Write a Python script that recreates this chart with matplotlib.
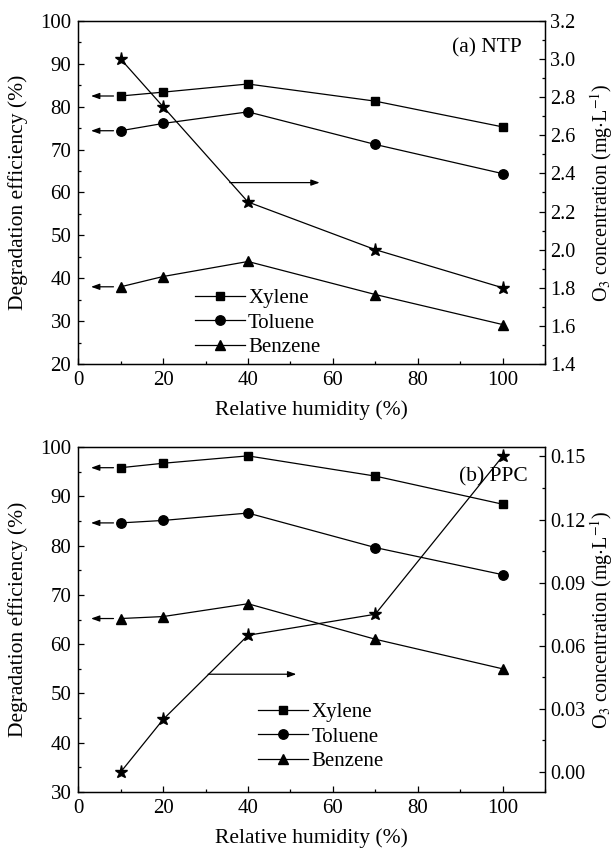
import matplotlib
matplotlib.use("Agg")
import matplotlib.pyplot as plt
from matplotlib.ticker import MultipleLocator

plt.rcParams['font.family'] = ['Liberation Serif', 'DejaVu Serif']
plt.rcParams['mathtext.fontset'] = 'stix'

# relative humidity (%)
rh = [10, 20, 40, 70, 100]

# (a) NTP
ntp_xylene = [82.5, 83.4, 85.3, 81.3, 75.3]
ntp_toluene = [74.4, 76.1, 78.8, 71.2, 64.4]
ntp_benzene = [38.0, 40.4, 43.9, 36.2, 29.2]
ntp_o3 = [3.0, 2.75, 2.25, 2.0, 1.8]

# (b) PPC
ppc_xylene = [95.8, 96.7, 98.2, 94.1, 88.4]
ppc_toluene = [84.6, 85.1, 86.6, 79.6, 74.1]
ppc_benzene = [65.2, 65.6, 68.2, 61.0, 55.0]
ppc_o3 = [0.0, 0.025, 0.065, 0.075, 0.15]

fig = plt.figure(figsize=(6.14, 8.49), dpi=100)
ax1 = fig.add_axes([0.1275, 0.5713, 0.760, 0.404])
ax2 = fig.add_axes([0.1275, 0.0671, 0.760, 0.4064])

FS_TICK = 15
FS_LAB = 15.5
lw = 0.9


def style(ax, minor_y):
    ax.set_xlim(0, 110)
    ax.xaxis.set_major_locator(MultipleLocator(20))
    ax.xaxis.set_minor_locator(MultipleLocator(10))
    ax.yaxis.set_minor_locator(MultipleLocator(minor_y))
    ax.tick_params(which='both', direction='in', labelsize=FS_TICK, width=0.9)
    ax.tick_params(which='major', length=4.5, pad=5)
    ax.tick_params(which='minor', length=2.5)
    ax.tick_params(axis='both', which='both', top=False, right=False)
    for s in ax.spines.values():
        s.set_linewidth(1.0)


def panel(ax, xyl, tol, ben, o3, ylim, rlim, rmajor, rminor, rfmt, tag, tagpos,
          legpos, rarrow):
    ax.plot(rh, xyl, '-s', color='k', lw=lw, ms=5.8, label='Xylene')
    ax.plot(rh, tol, '-o', color='k', lw=lw, ms=6.8, label='Toluene')
    ax.plot(rh, ben, '-^', color='k', lw=lw, ms=7.2, label='Benzene')
    ax.set_ylim(*ylim)
    ax.yaxis.set_major_locator(MultipleLocator(10))
    style(ax, 5)
    ax.set_xlabel('Relative humidity (%)', fontsize=FS_LAB)
    ax.set_ylabel('Degradation efficiency (%)', fontsize=FS_LAB)
    ax.xaxis.set_label_coords(0.5, -0.105)
    ax.yaxis.set_label_coords(-0.108, 0.5)

    # arrows pointing to the left axis
    for s in (xyl, tol, ben):
        ax.annotate('', xy=(3, s[0]), xytext=(8.3, s[0]),
                    arrowprops=dict(arrowstyle='-|>,head_length=0.5,head_width=0.18',
                                    color='k', lw=0.9, shrinkA=0, shrinkB=0))

    axr = ax.twinx()
    axr.plot(rh, o3, '-*', color='k', lw=lw, ms=9.5)
    axr.set_ylim(*rlim)
    axr.yaxis.set_major_locator(MultipleLocator(rmajor))
    axr.yaxis.set_minor_locator(MultipleLocator(rminor))
    axr.yaxis.set_major_formatter(rfmt)
    axr.tick_params(which='both', direction='in', labelsize=14.5, width=0.9,
                    left=False, right=True)
    axr.tick_params(which='major', length=4.5, pad=4)
    axr.tick_params(which='minor', length=2.5)
    axr.set_ylabel('O$_3$ concentration (mg$\\cdot$L$^{-1}$)', fontsize=14.5)
    axr.yaxis.set_label_coords(1.092, 0.5)

    # arrow pointing to the right axis
    ax.annotate('', xy=(rarrow[1], rarrow[2]), xytext=(rarrow[0], rarrow[2]),
                arrowprops=dict(arrowstyle='-|>,head_length=0.5,head_width=0.18',
                                color='k', lw=0.9, shrinkA=0, shrinkB=0))

    ax.text(tagpos[0], tagpos[1], tag, transform=ax.transAxes, ha='right',
            va='center', fontsize=FS_LAB)
    ax.legend(loc='center left', bbox_to_anchor=legpos, frameon=False,
              fontsize=15, handlelength=2.4, handletextpad=0.15,
              labelspacing=0.25, borderpad=0, borderaxespad=0, numpoints=1)
    return axr


panel(ax1, ntp_xylene, ntp_toluene, ntp_benzene, ntp_o3,
      (20, 100), (1.4, 3.2), 0.2, 0.1, '{x:.1f}', '(a) NTP', (0.951, 0.921),
      (0.25, 0.12), (35.7, 56.9, 62.3))
panel(ax2, ppc_xylene, ppc_toluene, ppc_benzene, ppc_o3,
      (30, 100), (-0.0095, 0.1545), 0.03, 0.015, '{x:.2f}', '(b) PPC', (0.964, 0.914),
      (0.386, 0.16), (30.6, 51.4, 53.9))

fig.savefig('out.png', dpi=100)
